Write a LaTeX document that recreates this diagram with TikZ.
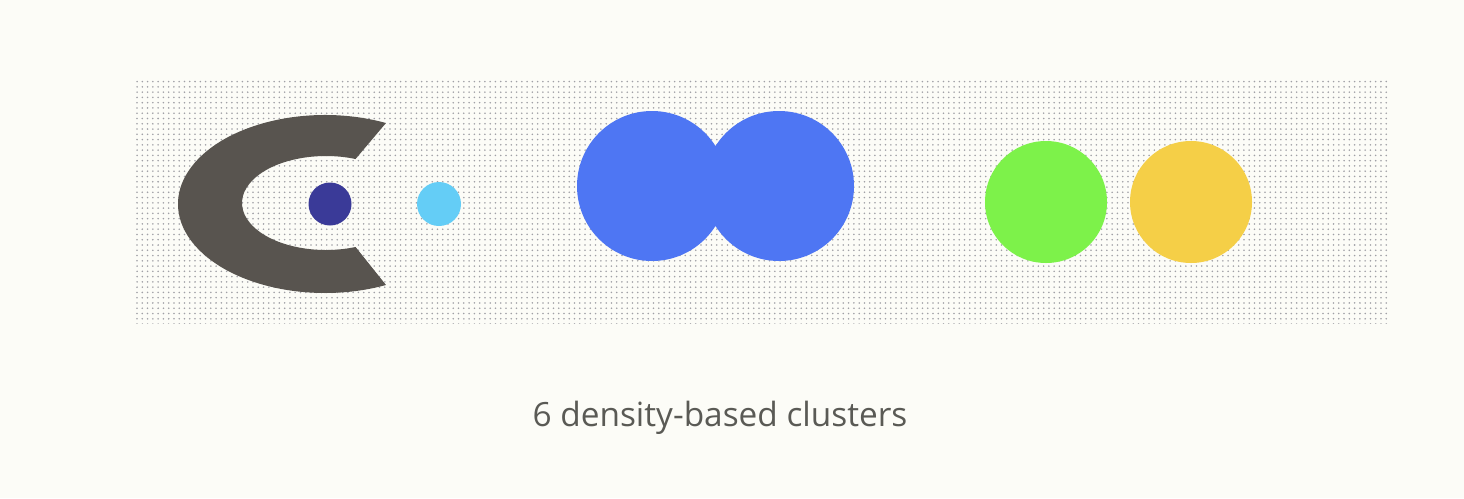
\documentclass[tikz,border=0pt]{standalone}
\usepackage{fontspec}
\setmainfont{Open Sans}
\usetikzlibrary{patterns,calc}
\definecolor{paper}{HTML}{FCFCF7}
\definecolor{dotgray}{HTML}{A0A0A6}
\definecolor{moon}{HTML}{58544F}
\definecolor{navy}{HTML}{3A3A98}
\definecolor{sky}{HTML}{64CDF6}
\definecolor{royal}{HTML}{4E76F3}
\definecolor{lime}{HTML}{7DF24A}
\definecolor{gold}{HTML}{F5CF47}
\definecolor{caption}{HTML}{5A5A55}
\begin{document}
\begin{tikzpicture}[x=0.02cm,y=-0.02cm]
        \fill[paper] (0,0) rectangle (1464,498);
        \useasboundingbox (0,0) rectangle (1464,498);
        \fill[pattern=dots,pattern color=dotgray] (133,78) rectangle (1388,323);
        % crescent
        \fill[moon] ($(325,204)+(294.5:147 and 89)$) arc[start angle=294.5,end angle=65.5,x radius=147,y radius=89] -- ($(326,203)+(69.4:84 and 47)$) arc[start angle=69.4,end angle=290.6,x radius=84,y radius=47] -- cycle;
        \fill[navy] (330,204) circle [radius=21.5];
        \fill[sky] (439,204) circle [radius=22];
        % two touching blobs
        \fill[royal] (652,186) circle [radius=75] (779,186) circle [radius=75];
        \fill[lime] (1046,202) circle [radius=61];
        \fill[gold] (1191,202) circle [radius=61];
        \node[text=caption,font=\fontsize{19}{23}\selectfont] (cap) at (720,418) {6 density-based clusters};
      \end{tikzpicture}
\end{document}
